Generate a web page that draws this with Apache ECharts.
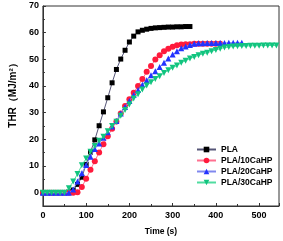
<!DOCTYPE html>
<html><head><meta charset="utf-8">
<script src="https://cdn.jsdelivr.net/npm/echarts@6/dist/echarts.min.js"></script>
<style>html,body{margin:0;padding:0;background:#fff}#c{width:283px;height:241px}</style>
</head><body><div id="c"></div>
<script>
var seriesNames = ['PLA', 'PLA/10CaHP', 'PLA/20CaHP', 'PLA/30CaHP'];
var xTicks = [0, 100, 200, 300, 400, 500];
var yTicks = [0, 10, 20, 30, 40, 50, 60, 70];
var step = 10;
var pla = [0,0,0,0,0,0,0.3,1.0,3.1,5.8,10.6,15.2,19.8,25.1,30.3,35.6,41.2,46.2,50.1,53.4,56.5,58.7,60.3,60.9,61.3,61.6,61.8,61.9,62.0,62.1,62.1,62.2,62.2,62.3,62.3];
var pla10 = [0,0,0,0,0,0,0,0,0.2,2.1,5.2,8.6,11.8,15.1,18.2,21.2,24.0,26.7,29.7,32.5,35.0,37.5,40.0,42.6,45.3,47.5,49.9,51.5,53.0,54.0,54.7,55.3,55.6,55.7,55.7,55.8,55.8,55.8,55.8,55.8,55.8,55.8];
var pla20 = [0,0,0,0,0,0,0,1.2,4.2,7.3,10.4,13.5,16.4,18.4,20.6,22.7,24.8,26.9,29.7,32.1,34.4,36.6,38.5,40.5,42.2,44.0,45.5,47.1,48.7,50.3,51.8,53.0,54.2,54.8,55.4,55.8,56.0,56.0,56.1,56.1,56.1,56.1,56.1,56.2,56.2,56.2,56.2];
var pla30 = [0,0,0,0,0,0,1.7,4.2,7.0,10.3,12.8,15.3,17.5,19.5,21.0,23.0,25.0,26.6,28.8,31.0,33.1,35.3,36.9,38.7,40.2,41.4,42.6,43.7,44.9,45.9,46.8,47.7,48.7,49.5,50.3,50.9,51.5,52.1,52.5,53.0,53.5,54.0,54.4,54.6,54.8,54.9,55.0,55.0,55.1,55.1,55.1,55.2,55.2,55.2,55.2];

function pairs(arr){ return arr.map(function(v,i){ return [i*step, v]; }); }
var markColors = ['#000000', '#ff1a3c', '#2233ff', '#12c47f'];
var lineColors = ['#555577', '#ff7090', '#8088ee', '#50dca0'];
var symbols = ['rect', 'circle', 'triangle', 'path://M0,0 L10,0 L5,9 Z'];
var sizes = [5, 6, 6, 6];
var dataSets = [pla, pla10, pla20, pla30];

var series = dataSets.map(function(d, i){
  return {
    name: seriesNames[i], type: 'line', data: pairs(d),
    symbol: symbols[i], symbolSize: sizes[i], showSymbol: true,
    itemStyle: {color: markColors[i]},
    lineStyle: {color: lineColors[i], width: 1},
    z: 2 + i, animation: false
  };
});

var font = '"Liberation Sans", Arial, sans-serif';
var chart = echarts.init(document.getElementById('c'));
chart.setOption({
  animation: false,
  grid: {left: 33, top: 6, right: 4, bottom: 34, show: true, borderColor: '#333', borderWidth: 1, containLabel: false},
  legend: {
    orient: 'vertical', left: 196, top: 145, padding: 0,
    itemWidth: 19, itemHeight: 7, itemGap: 2,
    data: seriesNames,
    textStyle: {fontSize: 8.5, fontWeight: 'bold', color: '#000', fontFamily: font}
  },
  xAxis: {
    type: 'value', min: 0, max: 546, interval: 100,
    name: 'Time (s)', nameLocation: 'middle', nameGap: 21,
    nameTextStyle: {fontSize: 8.5, fontWeight: 'bold', color: '#000', fontFamily: font},
    axisLine: {onZero: false, lineStyle: {color: '#333', width: 1}},
    axisTick: {inside: true, length: 3, lineStyle: {color: '#333'}},
    minorTick: {show: true, splitNumber: 2, length: 2, lineStyle: {color: '#333'}},
    axisLabel: {fontSize: 9, fontWeight: 'bold', color: '#000', fontFamily: font, margin: 5, showMaxLabel: false},
    splitLine: {show: false}
  },
  yAxis: [{
    type: 'value', min: -5, max: 70, interval: 5,
    name: 'THR（MJ/m²）', nameLocation: 'middle', nameGap: 20,
    nameTextStyle: {fontSize: 10, fontWeight: 'bold', color: '#000', fontFamily: font, padding: [0, 0, 0, 26]},
    axisLine: {onZero: false, lineStyle: {color: '#333', width: 1}},
    axisTick: {inside: true, length: 3, customValues: yTicks, lineStyle: {color: '#333'}},
    axisLabel: {fontSize: 9, fontWeight: 'bold', color: '#000', fontFamily: font, margin: 4, customValues: yTicks},
    splitLine: {show: false}
  }, {
    type: 'value', min: -5, max: 70, interval: 5, position: 'left',
    axisLine: {show: false},
    axisTick: {inside: true, length: 2, lineStyle: {color: '#333'}},
    axisLabel: {show: false}, splitLine: {show: false}
  }],
  series: series
});
</script></body></html>
